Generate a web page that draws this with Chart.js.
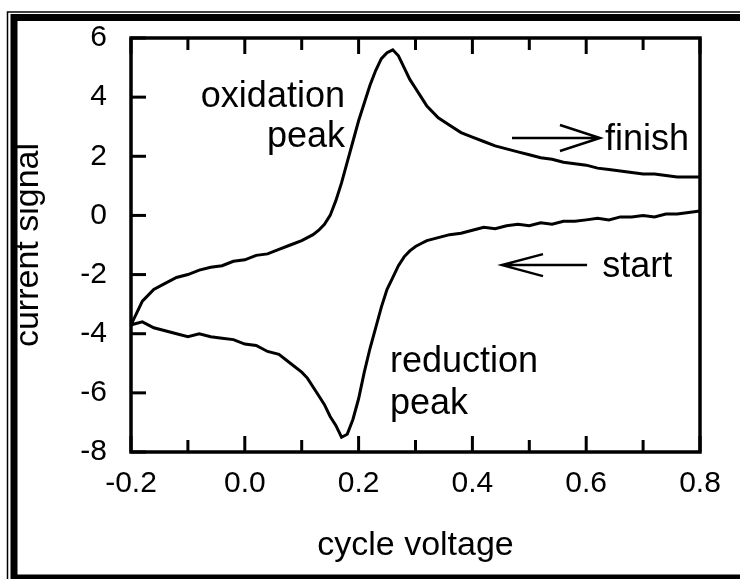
<!DOCTYPE html>
<html><head><meta charset="utf-8">
<script src="https://cdn.jsdelivr.net/npm/chart.js@4.4.0/dist/chart.umd.min.js"></script>
<style>html,body{margin:0;padding:0;background:#fff;}canvas{display:block;}</style>
</head><body>
<canvas id="c" width="740" height="579"></canvas>
<script>
// Sampled cycle voltages (V)
const voltage = [-0.2,-0.18,-0.16,-0.14,-0.12,-0.1,-0.08,-0.06,-0.04,-0.02,0,0.02,0.04,0.06,0.08,0.1,
  0.11,0.12,0.13,0.14,0.15,0.16,0.17,0.18,0.19,0.2,0.21,0.22,0.23,0.24,0.25,0.26,0.27,0.28,0.29,0.3,0.31,0.32,
  0.34,0.36,0.38,0.4,0.42,0.44,0.46,0.48,0.5,0.52,0.54,0.56,0.58,0.6,0.62,0.64,0.66,0.68,0.7,0.72,0.74,0.76,0.78,0.8];
// Lower branch (scanned first, from 0.8 V down to -0.2 V)
const reductionBranch = [-3.7,-3.6,-3.8,-3.9,-4.0,-4.1,-4.0,-4.1,-4.15,-4.2,-4.35,-4.4,-4.6,-4.7,-5.0,-5.3,
  -5.5,-5.8,-6.1,-6.4,-6.8,-7.1,-7.5,-7.4,-6.9,-6.2,-5.3,-4.5,-3.8,-3.1,-2.5,-2.1,-1.7,-1.4,-1.2,-1.05,-0.95,-0.85,
  -0.75,-0.65,-0.6,-0.5,-0.4,-0.45,-0.35,-0.3,-0.35,-0.25,-0.3,-0.2,-0.2,-0.15,-0.1,-0.15,-0.05,-0.05,0.0,-0.05,0.05,0.05,0.1,0.15];
// Upper branch (return scan, from -0.2 V up to 0.8 V)
const oxidationBranch = [-3.7,-2.9,-2.5,-2.3,-2.1,-2.0,-1.85,-1.75,-1.7,-1.55,-1.5,-1.35,-1.3,-1.15,-1.0,-0.85,
  -0.75,-0.65,-0.5,-0.3,0.0,0.5,1.1,1.8,2.5,3.2,3.8,4.4,4.9,5.3,5.5,5.6,5.4,5.0,4.6,4.3,4.0,3.7,
  3.3,3.05,2.8,2.65,2.5,2.35,2.25,2.15,2.05,1.95,1.9,1.8,1.75,1.7,1.6,1.55,1.5,1.45,1.4,1.4,1.35,1.3,1.3,1.3];
const xTickLabels = [-0.2,0.0,0.2,0.4,0.6,0.8];
const xMinorTicks = [-0.1,0.1,0.3,0.5,0.7];
const yTickLabels = [6,4,2,0,-2,-4,-6,-8];

const FONT = '"Liberation Sans", Arial, Helvetica, sans-serif';

const points = [];
for (let i = voltage.length - 1; i >= 0; i--) points.push({x: voltage[i], y: reductionBranch[i]});
for (let i = 0; i < voltage.length; i++) points.push({x: voltage[i], y: oxidationBranch[i]});

const labels = [
  {text:'oxidation', x:0.176, y:3.67, align:'right'},
  {text:'peak', x:0.176, y:2.31, align:'right'},
  {text:'finish', x:0.633, y:2.21, align:'left'},
  {text:'start', x:0.628, y:-2.08, align:'left'},
  {text:'reduction', x:0.255, y:-5.3, align:'left'},
  {text:'peak', x:0.255, y:-6.72, align:'left'}
];
const arrows = [
  {x0:0.4696, x1:0.6242, y:2.62, head:40, half:13},
  {x0:0.6015, x1:0.452, y:-1.68, head:41, half:11}
];

const decor = {
  id:'decor',
  afterDatasetsDraw(chart){
    const {ctx, chartArea:a, scales:{x, y}} = chart;
    ctx.save();
    ctx.strokeStyle = '#000';
    ctx.lineCap = 'butt';
    ctx.lineWidth = 3;
    const vt = (v, len) => {
      const px = x.getPixelForValue(v);
      ctx.beginPath();
      ctx.moveTo(px, a.bottom); ctx.lineTo(px, a.bottom - len);
      ctx.moveTo(px, a.top); ctx.lineTo(px, a.top + len);
      ctx.stroke();
    };
    xTickLabels.forEach(v => vt(v, 16));
    xMinorTicks.forEach(v => vt(v, 12));
    yTickLabels.forEach(v => {
      const py = y.getPixelForValue(v);
      ctx.beginPath(); ctx.moveTo(a.left, py); ctx.lineTo(a.left + 15, py); ctx.stroke();
    });
    ctx.lineWidth = 3.5;
    ctx.strokeRect(a.left, a.top, a.right - a.left, a.bottom - a.top);
    ctx.fillStyle = '#000';
    ctx.font = '36px ' + FONT;
    ctx.textBaseline = 'alphabetic';
    labels.forEach(l => {
      ctx.textAlign = l.align;
      ctx.fillText(l.text, x.getPixelForValue(l.x), y.getPixelForValue(l.y));
    });
    ctx.lineWidth = 2.5;
    arrows.forEach(ar => {
      const p0 = x.getPixelForValue(ar.x0), p1 = x.getPixelForValue(ar.x1), py = y.getPixelForValue(ar.y);
      const dir = Math.sign(p1 - p0);
      ctx.beginPath();
      ctx.moveTo(p0, py); ctx.lineTo(p1, py);
      ctx.moveTo(p1 - dir*ar.head, py - ar.half); ctx.lineTo(p1, py); ctx.lineTo(p1 - dir*ar.head, py + ar.half);
      ctx.stroke();
    });
    ctx.restore();
  },
  afterDraw(chart){
    const ctx = chart.ctx;
    ctx.save();
    ctx.strokeStyle = '#000';
    ctx.lineWidth = 1.5;
    ctx.strokeRect(7.5, 12, 800, 700);
    ctx.lineWidth = 7;
    ctx.strokeRect(14, 17.5, 800, 560.5);
    ctx.restore();
  }
};

new Chart(document.getElementById('c'), {
  type:'scatter',
  data:{datasets:[{data:points, showLine:true, borderColor:'#000', borderWidth:3, pointRadius:0, tension:0, fill:false}]},
  options:{
    responsive:false, animation:false, devicePixelRatio:1,
    layout:{padding:{top:38, right:40, left:0, bottom:0}},
    plugins:{legend:{display:false}, tooltip:{enabled:false}},
    scales:{
      x:{type:'linear', min:-0.2, max:0.8,
        afterBuildTicks:s=>{s.ticks = xTickLabels.map(v=>({value:v}));},
        ticks:{callback:v=>Number(v).toFixed(1), font:{family:FONT, size:30}, color:'#000', padding:6, maxRotation:0, autoSkip:false},
        grid:{display:false}, border:{display:false},
        title:{display:true, text:'cycle voltage', font:{family:FONT, size:34}, color:'#000', padding:{top:0, bottom:13}},
        afterFit:s=>{s.height = 127;}
      },
      y:{type:'linear', min:-8, max:6,
        afterBuildTicks:s=>{s.ticks = yTickLabels.map(v=>({value:v}));},
        ticks:{font:{family:FONT, size:30}, color:'#000', padding:16},
        grid:{display:false}, border:{display:false},
        title:{display:true, text:'current signal', font:{family:FONT, size:34}, color:'#000', padding:{top:8, bottom:0}},
        afterFit:s=>{s.width = 131;}
      }
    }
  },
  plugins:[decor]
});
</script>
</body></html>
